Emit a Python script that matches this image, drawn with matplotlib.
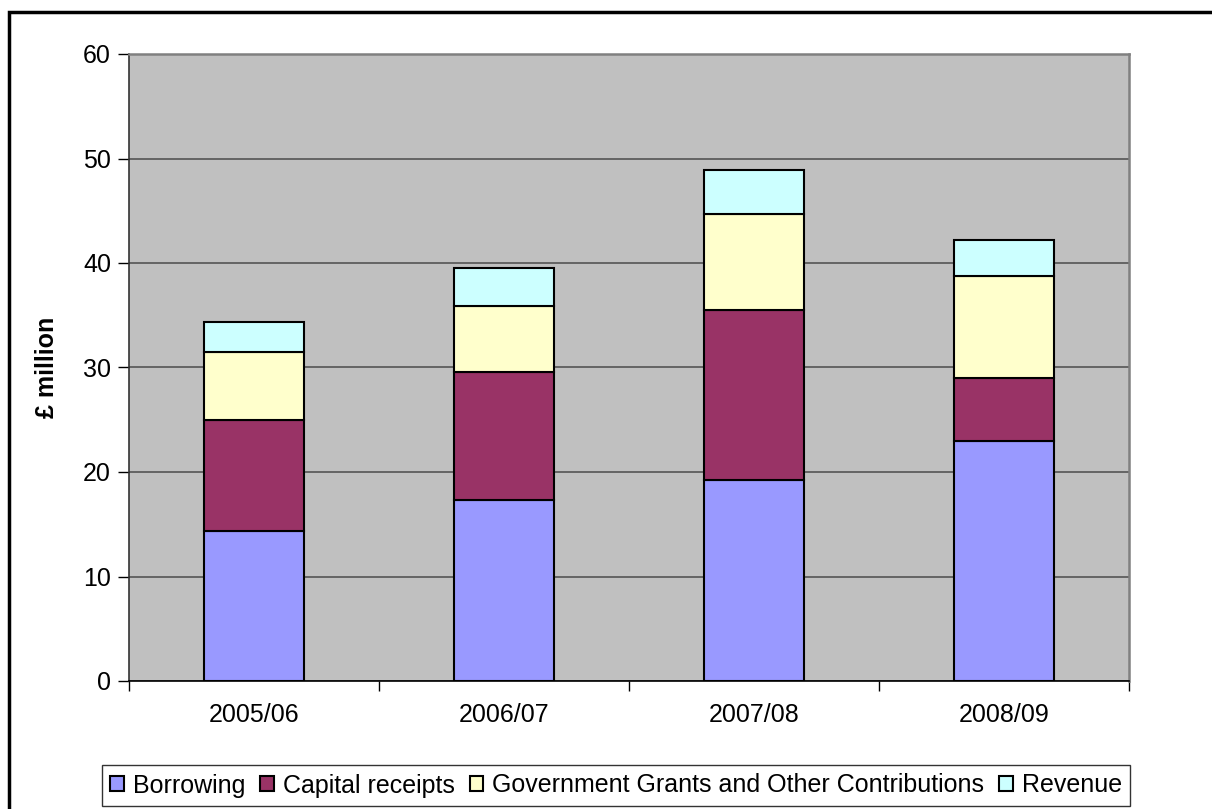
import matplotlib
matplotlib.use("Agg")
import matplotlib.pyplot as plt
from matplotlib.patches import Rectangle
import numpy as np

plt.rcParams['font.family'] = ['Liberation Sans', 'DejaVu Sans']

# Capital financing by source (£ million)
years = ["2005/06", "2006/07", "2007/08", "2008/09"]
borrowing = [14.4, 17.3, 19.2, 23.0]
capital_receipts = [10.6, 12.3, 16.3, 6.0]
grants = [6.5, 6.3, 9.2, 9.8]
revenue = [2.85, 3.6, 4.2, 3.4]

series = [
    ("Borrowing", borrowing, "#9999FF"),
    ("Capital receipts", capital_receipts, "#993366"),
    ("Government Grants and Other Contributions", grants, "#FFFFCC"),
    ("Revenue", revenue, "#CCFFFF"),
]

W, H = 1212, 809
FS = 18
fig = plt.figure(figsize=(W / 100, H / 100), dpi=100)
ax = fig.add_axes([129 / W, 1 - 681 / H, (1129 - 129) / W, (681 - 54) / H])
ax.set_facecolor("#C0C0C0")

x = np.arange(len(years))
bottom = np.zeros(len(years))
handles = []
for name, vals, color in series:
    b = ax.bar(x, vals, width=0.4, bottom=bottom, color=color,
               edgecolor="black", linewidth=1.5, label=name, zorder=3)
    handles.append(b)
    bottom += np.array(vals)

ax.set_xlim(-0.5, len(years) - 0.5)
ax.set_ylim(0, 60)
ax.set_yticks(range(0, 61, 10))
ax.yaxis.grid(True, color="#555555", linewidth=1.2, zorder=1)
ax.set_axisbelow(True)

ax.set_xticks(x)
ax.set_xticklabels(years)
ax.set_xticks(np.arange(-0.5, len(years), 1.0), minor=True)
ax.tick_params(axis="x", which="major", length=0, pad=16, labelsize=FS)
ax.tick_params(axis="x", which="minor", length=7, width=1, color="black", direction="out")
ax.tick_params(axis="y", length=8, width=1, color="black", direction="out", pad=5, labelsize=FS)

for s in ("top", "right"):
    ax.spines[s].set_color("#808080")
    ax.spines[s].set_linewidth(1.8)
ax.spines["left"].set_color("#333333")
ax.spines["left"].set_linewidth(1.2)
ax.spines["bottom"].set_color("black")
ax.spines["bottom"].set_linewidth(1.2)

ax.set_ylabel("£ million", fontsize=FS, fontweight="bold", labelpad=17)

leg = fig.legend(handles=handles, loc="center",
                 bbox_to_anchor=((95 + 1137) / 2 / W, 1 - 785.5 / H),
                 ncol=4, fontsize=FS, frameon=True, fancybox=False,
                 handlelength=0.55, handleheight=0.55, handletextpad=0.35,
                 columnspacing=0.6, borderpad=0.35, borderaxespad=0)
leg.get_frame().set_edgecolor("black")
leg.get_frame().set_linewidth(1.0)

# Chart border
fig.patches.append(Rectangle((9 / W, -0.05), 1.1, 1 - 12 / H + 0.05,
                             transform=fig.transFigure, fill=False,
                             edgecolor="black", linewidth=2.5))

fig.savefig("out.png", dpi=100)
